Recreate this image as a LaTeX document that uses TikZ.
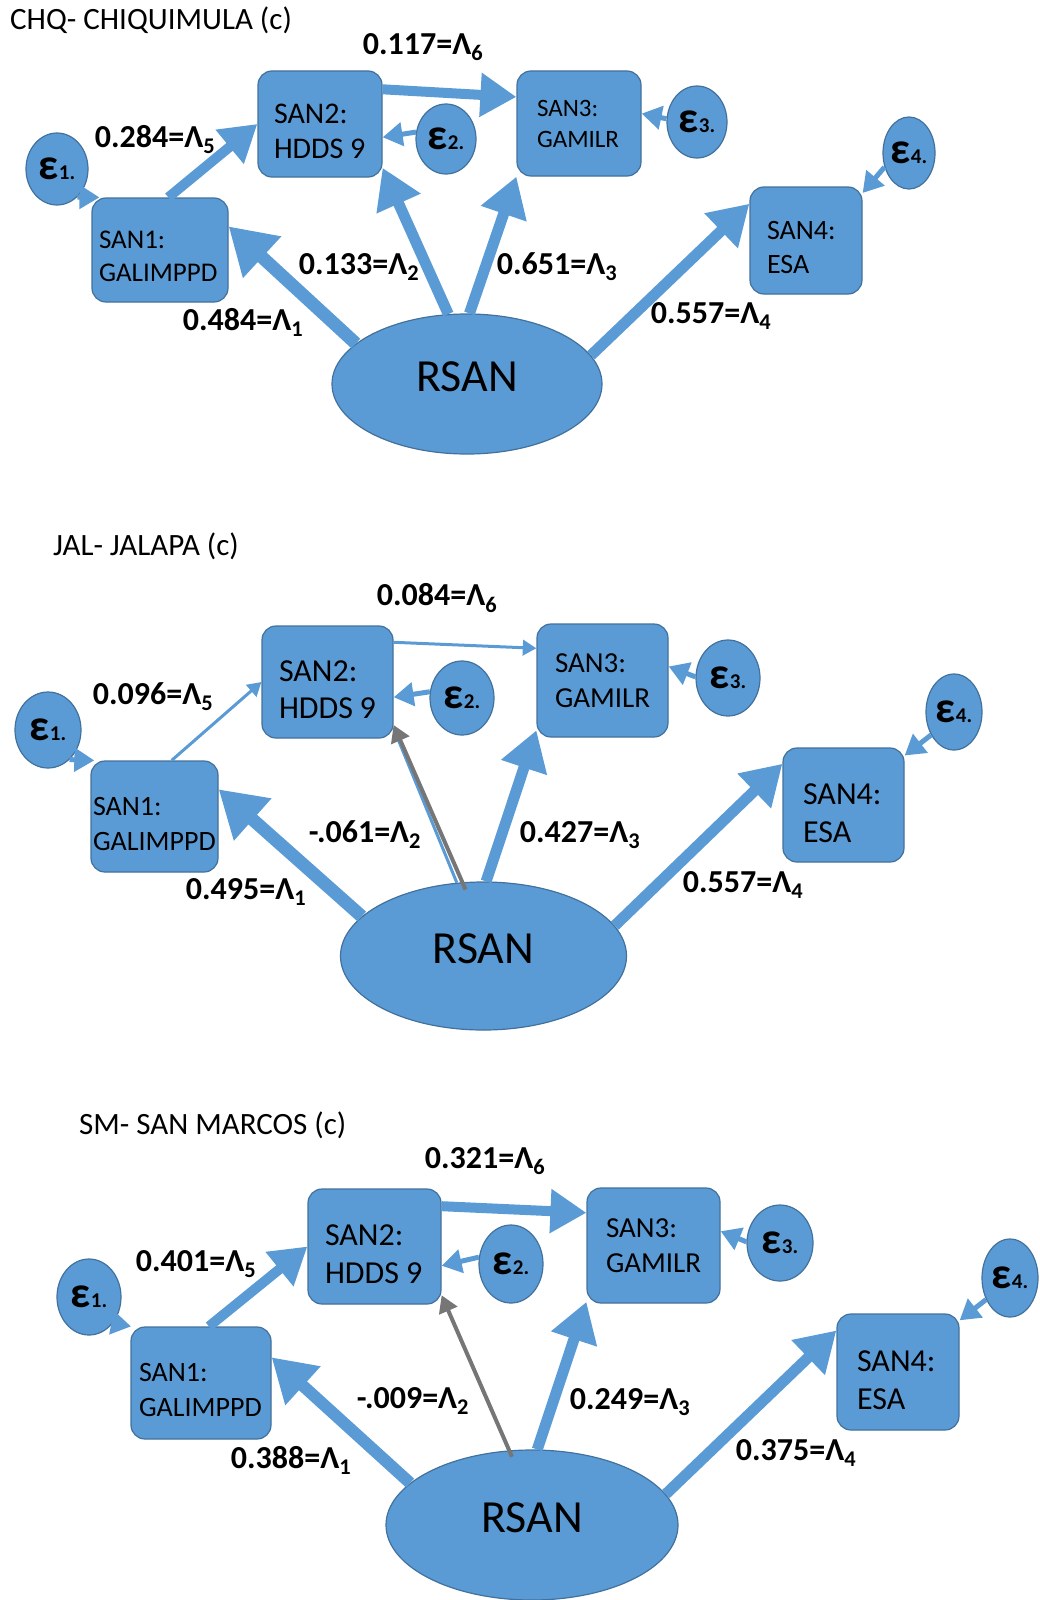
\documentclass[tikz,border=0pt]{standalone}
\usepackage{fontspec}
\setmainfont{Carlito}
\usepackage{tikz}
\usetikzlibrary{arrows.meta}
\usetikzlibrary{shapes.geometric}
\usetikzlibrary{calc}

\definecolor{sanblue}{HTML}{5B9BD5}
\definecolor{sanedge}{HTML}{41719C}
\definecolor{sangrey}{HTML}{767676}

\newcommand{\epslbl}[1]{{\fontsize{44}{46}\selectfont ε}{\fontsize{21}{23}\selectfont #1.}}

\tikzset{
  box/.style={draw=sanedge,fill=sanblue,line width=1.2pt,rounded corners=14pt,align=flush left,inner ysep=0pt},
  pushdown/.style={execute at begin node={\rule{0pt}{1.15em}}},
  err/.style={draw=sanedge,fill=sanblue,line width=1.2pt,ellipse,inner sep=0pt,font=\bfseries},
  lat/.style={draw=sanedge,fill=sanblue,line width=1.2pt,ellipse,inner sep=0pt,text depth=14pt,font=\fontsize{46}{50}\selectfont},
  lbl/.style={font=\bfseries\fontsize{32}{38}\selectfont,inner sep=0pt},
  ttl/.style={font=\fontsize{31}{36}\selectfont,anchor=base west,inner sep=0pt},
  ldg/.style={draw=sanblue,line width=#1,-{Triangle[length=4pt 3.2,width=4pt 3.8]}},
  negldg/.style={draw=sangrey,line width=#1,-{Triangle[length=4pt 3.2,width=4pt 3.8]}},
}

\begin{document}
\begin{tikzpicture}[x=1pt,y=-1pt]
  \useasboundingbox (0,0) rectangle (1039,1600);

  \node[ttl] (t1) at (10,30) {CHQ- CHIQUIMULA (c)};
  \node[box,pushdown,minimum height=104pt,text width=122pt,inner xsep=7pt,font=\fontsize{27}{33}\selectfont] (s1a) at (160,250) {SAN1:\\GALIMPPD};
  \node[box,pushdown,minimum height=106pt,text width=92pt,inner xsep=16pt,font=\fontsize{30}{35}\selectfont] (s2a) at (320,124) {SAN2:\\HDDS 9};
  \node[box,minimum height=105pt,text width=84pt,inner xsep=20pt,font=\fontsize{25}{31}\selectfont] (s3a) at (579,123.5) {SAN3:\\GAMILR};
  \node[box,pushdown,minimum height=107pt,text width=78pt,inner xsep=17pt,font=\fontsize{28}{34}\selectfont] (s4a) at (806,240.5) {SAN4:\\ESA};
  \node[err,minimum width=62pt,minimum height=72pt] (e1a) at (57,169) {\epslbl{1}};
  \node[err,minimum width=60pt,minimum height=70pt] (e2a) at (446,139) {\epslbl{2}};
  \node[err,minimum width=60pt,minimum height=72pt] (e3a) at (697,122) {\epslbl{3}};
  \node[err,minimum width=52pt,minimum height=72pt] (e4a) at (909,153) {\epslbl{4}};
  \node[lat,minimum width=270pt,minimum height=140pt] (ra) at (467,384) {RSAN};
  \node[lbl] (l6a) at (423,47) {0.117=Λ\textsubscript{6}};
  \node[lbl] (l5a) at (155,140) {0.284=Λ\textsubscript{5}};
  \node[lbl] (l1a) at (243,322) {0.484=Λ\textsubscript{1}};
  \node[lbl] (l2a) at (359,267) {0.133=Λ\textsubscript{2}};
  \node[lbl] (l3a) at (557,267) {0.651=Λ\textsubscript{3}};
  \node[lbl] (l4a) at (711,316) {0.557=Λ\textsubscript{4}};
  \draw[ldg=10pt] (s1a.81) -- (s2a.west);
  \draw[ldg=10pt] (s2a.29) -- (s3a.157);
  \draw[ldg=13pt] (ra.160) -- (s1a.19);
  \draw[ldg=11pt] (ra.105) -- (s2a.-35);
  \draw[ldg=11pt] (ra.88) -- (s3a.south west);
  \draw[ldg=11pt] (ra.13) -- (s4a.147);
  \draw[ldg=5pt] (e1a.-54) -- (s1a.139);
  \draw[ldg=5pt] (e2a.167) -- (s2a.-12);
  \draw[ldg=5pt] (e3a.174) -- (s3a.9);
  \draw[ldg=5pt] (e4a.210) -- (s4a.40);

  \node[ttl] (t2) at (53,555) {JAL- JALAPA (c)};
  \node[box,pushdown,minimum height=111pt,text width=123pt,inner xsep=2pt,font=\fontsize{28}{35}\selectfont] (s1b) at (154.5,816.5) {SAN1:\\GALIMPPD};
  \node[box,pushdown,minimum height=112pt,text width=97pt,inner xsep=17pt,font=\fontsize{32}{37}\selectfont] (s2b) at (327.5,682) {SAN2:\\HDDS 9};
  \node[box,minimum height=113pt,text width=95pt,inner xsep=18pt,font=\fontsize{29}{35}\selectfont] (s3b) at (602.5,680.5) {SAN3:\\GAMILR};
  \node[box,pushdown,minimum height=114pt,text width=81pt,inner xsep=20pt,font=\fontsize{32}{38}\selectfont] (s4b) at (843.5,805) {SAN4:\\ESA};
  \node[err,minimum width=66pt,minimum height=76pt] (e1b) at (48,730) {\epslbl{1}};
  \node[err,minimum width=64pt,minimum height=74pt] (e2b) at (462,698) {\epslbl{2}};
  \node[err,minimum width=64pt,minimum height=76pt] (e3b) at (728,678) {\epslbl{3}};
  \node[err,minimum width=56pt,minimum height=76pt] (e4b) at (954,712) {\epslbl{4}};
  \node[lat,minimum width=286pt,minimum height=148pt] (rb) at (483.5,956) {RSAN};
  \node[lbl] (l6b) at (437,598) {0.084=Λ\textsubscript{6}};
  \node[lbl] (l5b) at (153,697) {0.096=Λ\textsubscript{5}};
  \node[lbl] (l2b) at (365,835) {-.061=Λ\textsubscript{2}};
  \node[lbl] (l1b) at (246,892) {0.495=Λ\textsubscript{1}};
  \node[lbl] (l3b) at (580,835) {0.427=Λ\textsubscript{3}};
  \node[lbl] (l4b) at (743,885) {0.557=Λ\textsubscript{4}};
  \draw[ldg=3pt] (s1b.73) -- (s2b.west);
  \draw[ldg=3pt] (s2b.31) -- (s3b.154);
  \draw[ldg=13pt] (rb.162) -- (s1b.23);
  \draw[draw=sanblue,line width=3pt] (rb.110) -- (s2b.-35);
  \draw[negldg=4pt,shorten <=-8pt] (rb.106) -- (s2b.-33);
  \draw[ldg=11pt] (rb.88) -- (s3b.217);
  \draw[ldg=11pt] (rb.13) -- (s4b.146);
  \draw[ldg=5pt] (e1b.-54) -- (s1b.137);
  \draw[ldg=5pt] (e2b.169) -- (s2b.-13);
  \draw[ldg=5pt] (e3b.178) -- (s3b.12);
  \draw[ldg=5pt] (e4b.225) -- (s4b.39);

  \node[ttl] (t3) at (79,1134) {SM- SAN MARCOS (c)};
  \node[box,pushdown,minimum height=112pt,text width=124pt,inner xsep=8pt,font=\fontsize{28}{35}\selectfont] (s1c) at (201,1383) {SAN1:\\GALIMPPD};
  \node[box,pushdown,minimum height=115pt,text width=99pt,inner xsep=17pt,font=\fontsize{32}{38}\selectfont] (s2c) at (374.5,1246.5) {SAN2:\\HDDS 9};
  \node[box,minimum height=115pt,text width=95pt,inner xsep=19pt,font=\fontsize{29}{35}\selectfont] (s3c) at (653.5,1245.5) {SAN3:\\GAMILR};
  \node[box,pushdown,minimum height=116pt,text width=82pt,inner xsep=20pt,font=\fontsize{32}{38}\selectfont] (s4c) at (898,1372) {SAN4:\\ESA};
  \node[err,minimum width=64pt,minimum height=76pt] (e1c) at (89,1297) {\epslbl{1}};
  \node[err,minimum width=64pt,minimum height=78pt] (e2c) at (511,1264) {\epslbl{2}};
  \node[err,minimum width=66pt,minimum height=76pt] (e3c) at (780,1243) {\epslbl{3}};
  \node[err,minimum width=56pt,minimum height=78pt] (e4c) at (1010,1278) {\epslbl{4}};
  \node[lat,minimum width=292pt,minimum height=150pt] (rc) at (532,1525) {RSAN};
  \node[lbl] (l6c) at (485,1161) {0.321=Λ\textsubscript{6}};
  \node[lbl] (l5c) at (196,1264) {0.401=Λ\textsubscript{5}};
  \node[lbl] (l2c) at (413,1401) {-.009=Λ\textsubscript{2}};
  \node[lbl] (l1c) at (291,1460) {0.388=Λ\textsubscript{1}};
  \node[lbl] (l3c) at (630,1402) {0.249=Λ\textsubscript{3}};
  \node[lbl] (l4c) at (796,1453) {0.375=Λ\textsubscript{4}};
  \draw[ldg=10pt] (s1c.82) -- (s2c.west);
  \draw[ldg=10pt] (s2c.31) -- (s3c.154);
  \draw[ldg=12pt] (rc.161) -- (s1c.20);
  \draw[negldg=4pt,shorten <=-7pt] (rc.107) -- (s2c.-36);
  \draw[ldg=11pt] (rc.86) -- (s3c.220);
  \draw[ldg=11pt] (rc.13) -- (s4c.146);
  \draw[ldg=5pt] (e1c.-47) -- (s1c.141);
  \draw[ldg=5pt] (e2c.168) -- (s2c.-16);
  \draw[ldg=5pt] (e3c.178) -- (s3c.12);
  \draw[ldg=5pt] (e4c.222) -- (s4c.40);
\end{tikzpicture}
\end{document}
